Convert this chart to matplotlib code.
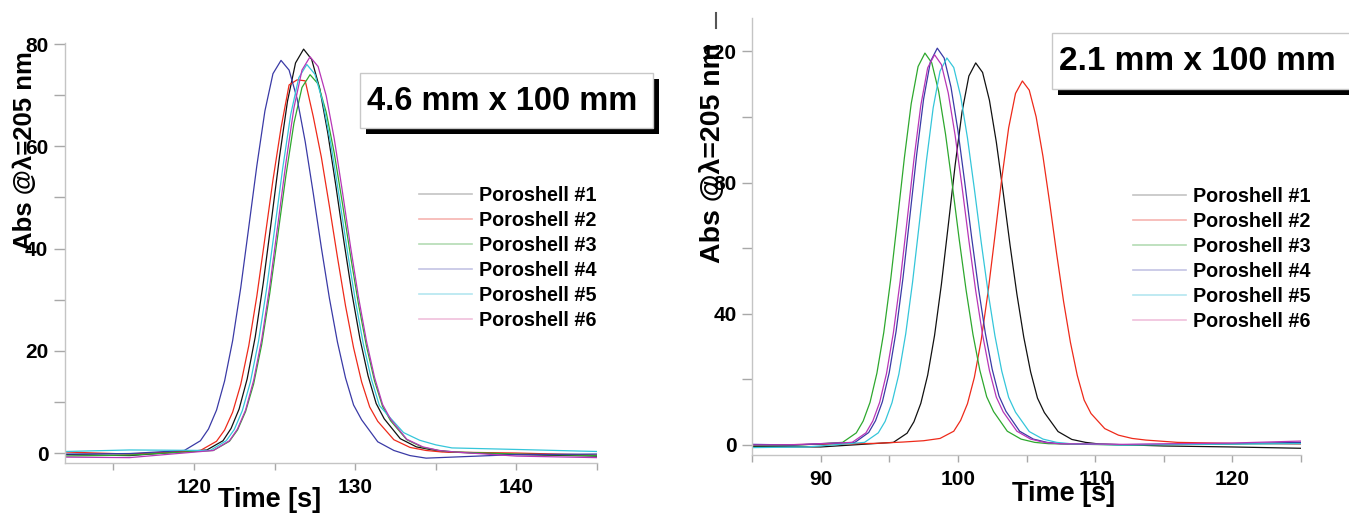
import matplotlib
matplotlib.use("Agg")
import matplotlib.pyplot as plt
from matplotlib.lines import Line2D
from matplotlib.patches import Rectangle
from matplotlib.ticker import MultipleLocator

# ---------------- data ----------------
labels = ["Poroshell #1", "Poroshell #2", "Poroshell #3",
          "Poroshell #4", "Poroshell #5", "Poroshell #6"]
colors = ["#111111", "#ee2a1a", "#2ea82e", "#3a3aa6", "#35c6da", "#b736b7"]
legend_colors = ["#c4c4c4", "#f6b4b0", "#b4dcb4", "#c4c4e4", "#b4e6f0", "#f0c0dc"]

# Left panel: 4.6 mm x 100 mm
L1_t = [112, 116, 120.8, 121.8, 122.3, 122.8, 123.3, 123.8, 124.3, 124.8, 125.3, 125.8, 126.3,
        126.8, 127.3, 127.8, 128.3, 128.8, 129.3, 129.8, 130.3, 130.8, 131.3, 131.8, 132.8,
        133.8, 134.8, 135.8, 140, 145]
L1_v = [-0.3, -0.5, 0.6, 2.4, 4.8, 8.6, 14.5, 22.7, 33.3, 45.4, 57.8, 68.8, 76.3,
        79.0, 77.0, 71.3, 62.6, 52.3, 41.4, 31.2, 22.3, 15.1, 9.7, 6.7, 2.8,
        1.2, 0.6, 0.2, -0.3, -0.6]
L2_t = [112, 116, 120.4, 121.4, 121.9, 122.4, 122.9, 123.4, 123.9, 124.4, 124.9, 125.4, 125.9,
        126.4, 126.9, 127.4, 127.9, 128.4, 128.9, 129.4, 129.9, 130.4, 130.9, 131.4, 132.4,
        133.4, 134.4, 135.4, 140, 145]
L2_v = [0.2, -0.2, 0.5, 2.3, 4.5, 8.0, 13.4, 21.0, 30.7, 42.0, 53.4, 63.6, 72.0,
        73.0, 72.8, 65.8, 57.9, 48.3, 38.3, 28.8, 20.6, 13.9, 9.0, 6.2, 2.6,
        1.1, 0.5, 0.2, 0.0, -0.4]
L3_t = [112, 116, 121.2, 122.2, 122.7, 123.2, 123.7, 124.2, 124.7, 125.2, 125.7, 126.2, 126.7,
        127.2, 127.7, 128.2, 128.7, 129.2, 129.7, 130.2, 130.7, 131.2, 131.7, 132.2, 133.2,
        134.2, 135.2, 136.2, 140, 145]
L3_v = [-0.6, -0.4, 0.5, 2.3, 4.5, 8.1, 13.5, 21.2, 31.2, 42.6, 54.2, 64.5, 71.5,
        74.0, 72.2, 66.7, 58.7, 49.0, 38.8, 29.2, 20.9, 14.1, 9.1, 6.3, 2.6,
        1.1, 0.5, 0.2, -0.2, -0.5]
L4_t = [112, 116, 119.4, 120.4, 120.9, 121.4, 121.9, 122.4, 122.9, 123.4, 123.9, 124.4, 124.9,
        125.4, 125.9, 126.4, 126.9, 127.4, 127.9, 128.4, 128.9, 129.4, 129.9, 130.4, 131.4,
        132.4, 133.4, 134.4, 140, 145]
L4_v = [-0.2, -0.1, 0.5, 2.4, 4.7, 8.4, 14.1, 22.0, 32.3, 44.2, 56.2, 66.9, 74.2,
        76.8, 74.9, 69.3, 60.9, 50.8, 40.2, 30.3, 21.7, 14.7, 9.4, 6.5, 2.2,
        0.5, -0.5, -1.0, -0.3, -0.2]
L5_t = [112, 116, 121.0, 122.0, 122.5, 123.0, 123.5, 124.0, 124.5, 125.0, 125.5, 126.0, 126.5,
        127.0, 127.5, 128.0, 128.5, 129.0, 129.5, 130.0, 130.5, 131.0, 131.5, 132.0, 133.0,
        134.0, 135.0, 136.0, 140, 145]
L5_v = [0.3, 0.6, 0.5, 2.4, 4.6, 8.3, 13.9, 21.8, 32.0, 43.7, 55.6, 66.2, 73.4,
        76.0, 74.1, 68.6, 60.3, 50.3, 39.8, 30.0, 21.4, 14.5, 9.3, 7.5, 4.0,
        2.5, 1.6, 1.0, 0.7, 0.3]
L6_t = [112, 116, 121.2, 122.2, 122.7, 123.2, 123.7, 124.2, 124.7, 125.2, 125.7, 126.2, 126.7,
        127.2, 127.7, 128.2, 128.7, 129.2, 129.7, 130.2, 130.7, 131.2, 131.7, 132.2, 133.2,
        134.2, 135.2, 136.2, 140, 145]
L6_v = [-0.8, -0.9, 0.5, 2.4, 4.7, 8.4, 14.2, 22.2, 32.6, 44.6, 56.7, 67.5, 74.9,
        77.5, 75.6, 69.9, 61.5, 51.3, 40.6, 30.6, 21.9, 14.8, 9.5, 6.6, 2.7,
        1.2, 0.5, 0.2, -0.6, -0.9]

# Right panel: 2.1 mm x 100 mm
R1_t = [85, 90, 95.3, 96.3, 96.8, 97.3, 97.8, 98.3, 98.8, 99.3, 99.8, 100.3, 100.8,
        101.3, 101.8, 102.3, 102.8, 103.3, 103.8, 104.3, 104.8, 105.3, 105.8, 106.3, 107.3,
        108.3, 109.3, 110.3, 115, 120, 125]
R1_v = [-0.5, -0.6, 0.8, 3.6, 7.1, 12.7, 21.3, 33.4, 49.0, 67.0, 85.3, 101.5, 112.5,
        116.5, 113.6, 105.1, 92.4, 77.1, 61.0, 46.0, 32.9, 22.3, 14.3, 9.9, 4.1,
        1.7, 0.8, 0.3, -0.3, -0.6, -1.0]
R2_t = [85, 90, 94, 96, 97.5, 98.7, 99.7, 100.2, 100.7, 101.2, 101.7, 102.2, 102.7, 103.2,
        103.7, 104.2, 104.7, 105.2, 105.7, 106.2, 106.7, 107.2, 107.7, 108.2, 108.7, 109.2,
        109.7, 110.7, 111.7, 112.7, 113.7, 116, 120, 125]
R2_v = [0.0, 0.2, 0.5, 0.9, 1.3, 2.0, 4.2, 7.5, 12.6, 20.6, 32.0, 46.7, 63.8, 81.3,
        96.7, 107.2, 111.0, 108.2, 100.1, 88.0, 73.5, 58.2, 43.8, 31.3, 21.2, 13.7,
        9.6, 5.0, 3.0, 2.0, 1.5, 0.8, 0.5, 0.3]
R3_t = [85, 88, 91.6, 92.6, 93.1, 93.6, 94.1, 94.6, 95.1, 95.6, 96.1, 96.6, 97.1,
        97.6, 98.1, 98.6, 99.1, 99.6, 100.1, 100.6, 101.1, 101.6, 102.1, 102.6, 103.6,
        104.6, 105.6, 106.6, 112, 120, 125]
R3_v = [-0.2, -0.1, 0.8, 3.7, 7.3, 13.0, 21.9, 34.3, 50.3, 68.7, 87.5, 104.1, 115.4,
        119.5, 116.5, 107.8, 94.8, 79.1, 62.6, 47.2, 33.7, 22.8, 14.7, 10.2, 4.2,
        1.8, 0.8, 0.4, 0.0, 0.3, 0.6]
R4_t = [85, 88, 92.5, 93.5, 94.0, 94.5, 95.0, 95.5, 96.0, 96.5, 97.0, 97.5, 98.0,
        98.5, 99.0, 99.5, 100.0, 100.5, 101.0, 101.5, 102.0, 102.5, 103.0, 103.5, 104.5,
        105.5, 106.5, 107.5, 112, 120, 125]
R4_v = [0.2, 0.0, 0.8, 3.8, 7.4, 13.2, 22.1, 34.7, 50.9, 69.6, 88.6, 105.4, 116.9,
        121.0, 118.0, 109.1, 96.0, 80.1, 63.4, 47.8, 34.1, 23.1, 14.9, 10.3, 4.2,
        1.8, 0.8, 0.4, 0.1, 0.4, 0.8]
R5_t = [85, 89, 93.2, 94.2, 94.7, 95.2, 95.7, 96.2, 96.7, 97.2, 97.7, 98.2, 98.7,
        99.2, 99.7, 100.2, 100.7, 101.2, 101.7, 102.2, 102.7, 103.2, 103.7, 104.2, 105.2,
        106.2, 107.2, 108.2, 112, 120, 125]
R5_v = [-0.8, -0.6, 0.8, 3.7, 7.2, 12.9, 21.6, 33.9, 49.7, 67.9, 86.4, 102.8, 114.0,
        118.0, 115.1, 106.4, 93.6, 78.1, 61.8, 46.6, 33.3, 22.5, 14.5, 10.0, 4.1,
        1.8, 0.8, 0.4, 0.0, 0.3, 0.4]
R6_t = [85, 88, 92.3, 93.3, 93.8, 94.3, 94.8, 95.3, 95.8, 96.3, 96.8, 97.3, 97.8,
        98.3, 98.8, 99.3, 99.8, 100.3, 100.8, 101.3, 101.8, 102.3, 102.8, 103.3, 104.3,
        105.3, 106.3, 107.3, 112, 120, 125]
R6_v = [0.0, 0.1, 0.8, 3.7, 7.3, 13.0, 21.8, 34.2, 50.1, 68.4, 87.1, 103.6, 115.0,
        119.0, 116.0, 107.3, 94.4, 78.8, 62.4, 47.0, 33.6, 22.7, 14.6, 10.1, 4.2,
        1.8, 0.8, 0.4, 0.2, 0.6, 1.2]

left_series = [(L1_t, L1_v), (L2_t, L2_v), (L3_t, L3_v), (L4_t, L4_v), (L5_t, L5_v), (L6_t, L6_v)]
right_series = [(R1_t, R1_v), (R2_t, R2_v), (R3_t, R3_v), (R4_t, R4_v), (R5_t, R5_v), (R6_t, R6_v)]

left_title = "4.6 mm x 100 mm"
right_title = "2.1 mm x 100 mm"
ylabel_text = "Abs @\u03bb=205 nm"
xlabel_text = "Time [s]"

# ---------------- style ----------------
FONT = ["Liberation Sans", "DejaVu Sans"]
plt.rcParams["font.family"] = FONT
plt.rcParams["font.weight"] = "bold"

W, H = 1349, 514
fig = plt.figure(figsize=(W / 100, H / 100), dpi=100)


def fx(px):
    return px / W


def fy(py):
    return 1 - py / H


SPINE = "#c4c4c4"
TICK = "#a8a8a8"


def style_axes(ax, xmaj, xmin, ymaj, ymin, ylen, xlen):
    for s in ("top", "right"):
        ax.spines[s].set_visible(False)
    for s in ("left", "bottom"):
        ax.spines[s].set_color(SPINE)
        ax.spines[s].set_linewidth(1.0)
    ax.xaxis.set_major_locator(MultipleLocator(xmaj))
    ax.xaxis.set_minor_locator(MultipleLocator(xmin))
    ax.yaxis.set_major_locator(MultipleLocator(ymaj))
    ax.yaxis.set_minor_locator(MultipleLocator(ymin))
    ax.tick_params(axis="y", which="both", direction="out", length=ylen, width=1,
                   color=TICK, labelsize=15, pad=4)
    ax.tick_params(axis="x", which="both", direction="out", length=xlen, width=1,
                   color=TICK, labelsize=15, pad=6)
    for lab in ax.get_xticklabels() + ax.get_yticklabels():
        lab.set_fontweight("bold")


def add_legend(ax, x, y):
    handles = [Line2D([], [], color=c, lw=1.2) for c in legend_colors]
    leg = ax.legend(handles, labels, loc="upper left", bbox_to_anchor=(x, y),
                    frameon=False, borderpad=0, borderaxespad=0, handlelength=2.7,
                    handletextpad=0.35, labelspacing=0.3,
                    prop={"family": FONT, "weight": "bold", "size": 14.2})
    return leg


def title_box(x0, y0, x1, y1, text, tx, ty, size):
    sh = 6
    fig.add_artist(Rectangle((fx(x0 + sh), fy(y1 + sh)), (x1 - x0) / W, (y1 - y0) / H,
                             transform=fig.transFigure, facecolor="black",
                             edgecolor="none", zorder=5))
    fig.add_artist(Rectangle((fx(x0), fy(y1)), (x1 - x0) / W, (y1 - y0) / H,
                             transform=fig.transFigure, facecolor="white",
                             edgecolor="#c8c8c8", lw=1.0, zorder=6))
    fig.text(fx(tx), fy(ty), text, ha="left", va="center", fontsize=size,
             fontweight="bold", family=FONT, zorder=7)


# ---------------- left panel ----------------
axL = fig.add_axes([fx(65), fy(463), (597 - 65) / W, (463 - 43) / H])
for (t, v), c in zip(left_series, colors):
    axL.plot(t, v, color=c, lw=0.9)
axL.set_xlim(112, 145)
axL.set_ylim(-1.95, 80.2)
style_axes(axL, 10, 5, 20, 10, 8, 5)
axL.set_ylabel(ylabel_text, fontsize=18.5, fontweight="bold", family=FONT)
axL.yaxis.set_label_coords((25 - 65) / 532, (463 - 151) / 420)
axL.yaxis.label.set_va("center")
axL.set_xlabel(xlabel_text, fontsize=19.5, fontweight="bold")
axL.xaxis.set_label_coords((270 - 65) / 532, (463 - 500) / 420)
axL.xaxis.label.set_va("center")
add_legend(axL, (419 - 65) / 532, (463 - 186) / 420)

# ---------------- right panel ----------------
axR = fig.add_axes([fx(752), fy(455), (1301 - 752) / W, (455 - 18) / H])
for (t, v), c in zip(right_series, colors):
    axR.plot(t, v, color=c, lw=0.9)
axR.set_xlim(85, 125)
axR.set_ylim(-3.05, 130.2)
style_axes(axR, 10, 5, 40, 20, 7, 5)
axR.set_ylabel(ylabel_text, fontsize=20.5, fontweight="bold", family=FONT)
axR.yaxis.set_label_coords((713 - 752) / 549, (455 - 153) / 437)
axR.yaxis.label.set_va("center")
axR.set_xlabel(xlabel_text, fontsize=19.5, fontweight="bold")
axR.xaxis.set_label_coords((1064 - 752) / 549, (455 - 494) / 437)
axR.xaxis.label.set_va("center")
add_legend(axR, (1133 - 752) / 549, (455 - 187) / 437)

# ---------------- title boxes ----------------
title_box(360, 73, 653, 128, left_title, 367, 101, 23.5)
title_box(1052, 33, 1380, 89, right_title, 1059, 61, 24)

# small stray mark above right axis
fig.add_artist(Line2D([fx(716), fx(716)], [fy(13), fy(28)], transform=fig.transFigure,
                      color="#555555", lw=1.5))

fig.savefig("out.png", dpi=100)
